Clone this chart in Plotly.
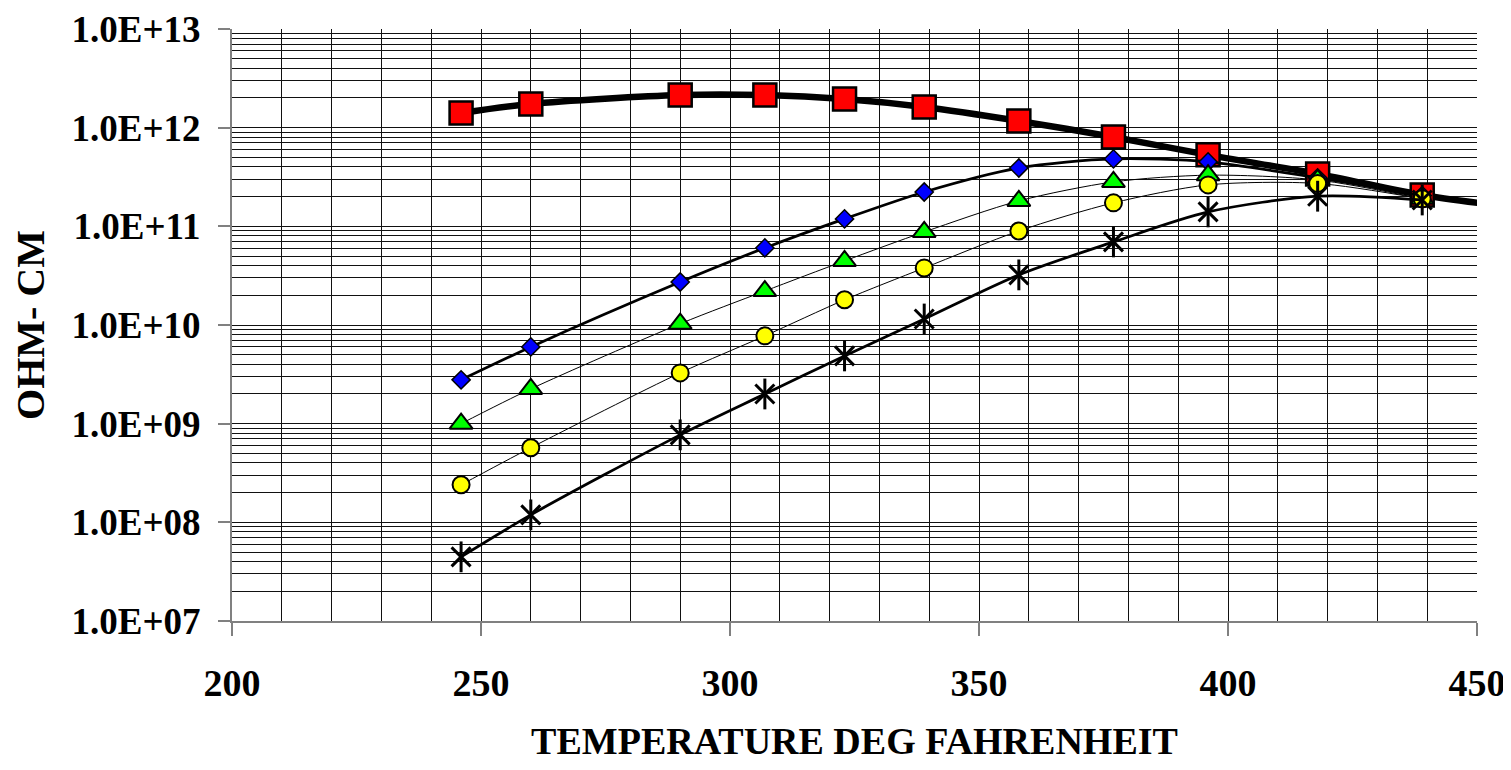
import plotly.graph_objects as go

# ---- data ----
temps = [246, 260, 290, 307, 323, 339, 358, 377, 396, 418, 439]
red_squares = [1.41e12, 1.74e12, 2.14e12, 2.14e12, 1.95e12, 1.62e12, 1.17e12, 8.05e11, 5.3e11, 3.4e11, 2.08e11]
red_tail_x = [452]
red_tail_y = [1.68e11]
blue_diamonds = [2.78e9, 6.0e9, 2.73e10, 6.04e10, 1.19e11, 2.23e11, 3.9e11, 4.82e11, 4.5e11, 3.1e11, 2.05e11]
green_triangles = [1.0e9, 2.25e9, 1.03e10, 2.21e10, 4.46e10, 8.77e10, 1.81e11, 2.82e11, 3.3e11, 2.95e11, 1.9e11]
yellow_circles = [2.4e8, 5.7e8, 3.27e9, 7.76e9, 1.8e10, 3.79e10, 8.98e10, 1.73e11, 2.63e11, 2.72e11, 1.9e11]
black_stars = [4.47e7, 1.19e8, 7.7e8, 2.0e9, 4.86e9, 1.15e10, 3.22e10, 6.95e10, 1.4e11, 2.02e11, 1.85e11]

x_ticks = [200, 250, 300, 350, 400, 450]
y_ticks = [1e7, 1e8, 1e9, 1e10, 1e11, 1e12, 1e13]
y_ticktext = ["1.0E+07", "1.0E+08", "1.0E+09", "1.0E+10", "1.0E+11", "1.0E+12", "1.0E+13"]
y_minor = [k * 10 ** e for e in range(7, 13) for k in range(2, 10)]

FONT = "Liberation Serif"
SM = 0.8

fig = go.Figure()

# red squares (thick line with extension)
fig.add_trace(go.Scatter(
    x=temps + red_tail_x, y=red_squares + red_tail_y, mode="lines",
    line=dict(color="black", width=6.5, shape="spline", smoothing=SM),
    hoverinfo="skip"))
fig.add_trace(go.Scatter(
    x=temps, y=red_squares, mode="markers",
    marker=dict(symbol="square", size=23, color="#FF0000",
                line=dict(color="black", width=2.5))))

# blue diamonds
fig.add_trace(go.Scatter(
    x=temps, y=blue_diamonds, mode="lines+markers",
    line=dict(color="black", width=2.75, shape="spline", smoothing=SM),
    marker=dict(symbol="diamond", size=14, color="#0000FF",
                line=dict(color="black", width=1.5))))

# green triangles
fig.add_trace(go.Scatter(
    x=temps, y=green_triangles, mode="lines+markers",
    line=dict(color="black", width=1, shape="spline", smoothing=SM),
    marker=dict(symbol="triangle-up", size=20, color="#00FF00",
                line=dict(color="black", width=2))))

# yellow circles
fig.add_trace(go.Scatter(
    x=temps, y=yellow_circles, mode="lines+markers",
    line=dict(color="black", width=1, shape="spline", smoothing=SM),
    marker=dict(symbol="circle", size=17, color="#FFFF00",
                line=dict(color="black", width=2))))

# black asterisks (X + vertical bar)
fig.add_trace(go.Scatter(
    x=temps, y=black_stars, mode="lines+markers",
    line=dict(color="black", width=2.75, shape="spline", smoothing=SM),
    marker=dict(symbol="x-thin-open", size=19, color="black",
                line=dict(color="black", width=3))))
fig.add_trace(go.Scatter(
    x=temps, y=black_stars, mode="markers",
    marker=dict(symbol="line-ns-open", size=22, color="black",
                line=dict(color="black", width=3))))

# page body adds an 8px offset; figure sized to fit the 1511x770 window
fig.update_layout(
    width=1503, height=754,
    margin=dict(l=224, r=34, t=21, b=141, autoexpand=False),
    paper_bgcolor="white", plot_bgcolor="white",
    showlegend=False,
    font=dict(family=FONT, color="black"),
)

fig.update_xaxes(
    range=[200, 450], tickmode="array", tickvals=x_ticks,
    ticks="outside", ticklen=13, tickcolor="#808080", tickwidth=1.5,
    showline=True, linecolor="#808080", linewidth=2,
    showgrid=True, gridcolor="#111111", gridwidth=1,
    minor=dict(dtick=10, tick0=200, showgrid=True, gridcolor="#111111", gridwidth=1, ticks=""),
    zeroline=False, automargin=False, ticklabeloverflow="allow",
    tickfont=dict(family=FONT, size=38, weight="bold", color="black"),
    ticklabelstandoff=14,
    title=dict(text="TEMPERATURE DEG FAHRENHEIT",
               font=dict(family=FONT, size=38, weight="bold", color="black"),
               standoff=40),
)

fig.update_yaxes(
    type="log", range=[7, 13], tickmode="array", tickvals=y_ticks, ticktext=y_ticktext,
    ticks="outside", ticklen=12, tickcolor="#808080", tickwidth=1.5,
    showline=True, linecolor="#808080", linewidth=2,
    showgrid=True, gridcolor="#111111", gridwidth=1,
    minor=dict(tickmode="array", tickvals=y_minor, showgrid=True,
               gridcolor="#111111", gridwidth=1, ticks=""),
    zeroline=False, automargin=False, ticklabeloverflow="allow",
    tickfont=dict(family=FONT, size=37, weight="bold", color="black"),
    ticklabelstandoff=10,
    title=dict(text="OHM- CM",
               font=dict(family=FONT, size=40, weight="bold", color="black"),
               standoff=18),
)

fig.write_html("out.html")
